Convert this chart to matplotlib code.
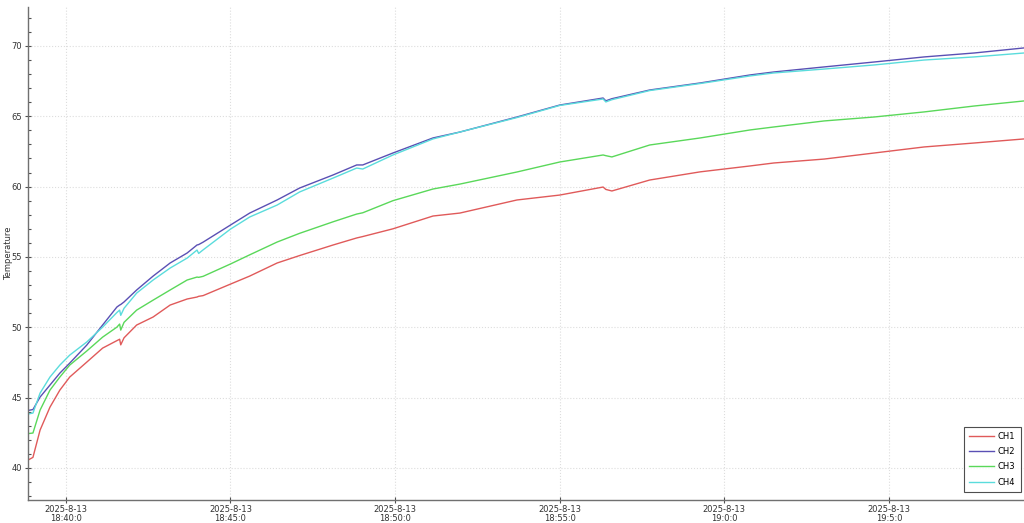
import matplotlib
matplotlib.use("Agg")
import matplotlib.pyplot as plt
import matplotlib.dates as mdates
from matplotlib.ticker import MultipleLocator, FuncFormatter
import pandas as pd

# sample times (2025-08-13)
times = [
    "18:38:53", "18:39:00", "18:39:13", "18:39:31", "18:39:49", "18:40:07",
    "18:40:38", "18:41:07", "18:41:33", "18:41:38", "18:41:40", "18:41:46",
    "18:42:09", "18:42:39", "18:43:10", "18:43:41", "18:43:59", "18:44:02",
    "18:44:10", "18:45:00", "18:45:35", "18:46:25", "18:47:06", "18:48:07",
    "18:48:50", "18:49:01", "18:49:56", "18:51:09", "18:51:58", "18:53:42",
    "18:55:00", "18:56:19", "18:56:24", "18:56:35", "18:57:44", "18:59:16",
    "19:00:47", "19:01:30", "19:03:02", "19:04:33", "19:06:04", "19:07:35",
    "19:09:06",
]

ch1 = [40.60, 40.75, 42.69, 44.32, 45.53, 46.46, 47.52, 48.52, 49.05, 49.15,
       48.75, 49.25, 50.16, 50.73, 51.58, 52.01, 52.15, 52.20, 52.25, 53.07,
       53.64, 54.57, 55.10, 55.85, 56.35, 56.45, 57.00, 57.91, 58.12, 59.05,
       59.40, 59.97, 59.80, 59.69, 60.47, 61.05, 61.47, 61.68, 61.96, 62.39,
       62.82, 63.10, 63.39]
ch2 = [44.10, 44.15, 45.04, 45.89, 46.74, 47.45, 48.73, 50.16, 51.44, 51.58,
       51.62, 51.80, 52.65, 53.64, 54.57, 55.28, 55.85, 55.88, 56.05, 57.27,
       58.12, 59.05, 59.90, 60.83, 61.54, 61.54, 62.39, 63.46, 63.88, 64.95,
       65.80, 66.30, 66.10, 66.25, 66.87, 67.37, 67.94, 68.15, 68.51, 68.86,
       69.22, 69.50, 69.86]
ch3 = [42.45, 42.48, 44.11, 45.53, 46.46, 47.31, 48.31, 49.30, 50.01, 50.23,
       49.80, 50.35, 51.22, 51.93, 52.65, 53.36, 53.57, 53.55, 53.62, 54.50,
       55.15, 56.06, 56.68, 57.50, 58.05, 58.14, 59.00, 59.83, 60.18, 61.04,
       61.75, 62.25, 62.20, 62.11, 62.96, 63.46, 64.03, 64.24, 64.67, 64.95,
       65.31, 65.73, 66.09]
ch4 = [43.85, 43.90, 45.32, 46.46, 47.31, 48.02, 48.95, 50.01, 51.05, 51.22,
       50.85, 51.35, 52.43, 53.36, 54.21, 54.92, 55.49, 55.25, 55.50, 56.98,
       57.84, 58.69, 59.62, 60.61, 61.32, 61.25, 62.25, 63.39, 63.88, 64.91,
       65.77, 66.23, 66.02, 66.18, 66.83, 67.33, 67.87, 68.08, 68.36, 68.65,
       69.00, 69.22, 69.50]

channels = ["CH1", "CH2", "CH3", "CH4"]
colors = ["#e05a5a", "#5a50b4", "#5ad85a", "#5adcdc"]

t = pd.to_datetime(["2025-08-13 " + s for s in times])

fig = plt.figure(figsize=(10.24, 5.23), dpi=100)
ax = fig.add_axes([28 / 1024, 23 / 523, 996 / 1024, 493 / 523])

for name, vals, c in zip(channels, [ch1, ch2, ch3, ch4], colors):
    ax.plot(t, vals, color=c, lw=1.0, label=name)

ax.set_xlim(pd.Timestamp("2025-08-13 18:38:51"), pd.Timestamp("2025-08-13 19:09:06"))
ax.set_ylim(37.72, 72.77)

ax.xaxis.set_major_locator(mdates.MinuteLocator(byminute=range(0, 60, 5)))


def fmt_time(x, pos):
    d = mdates.num2date(x)
    return f"{d.year}-{d.month}-{d.day}\n{d.hour}:{d.minute}:{d.second}"


ax.xaxis.set_major_formatter(FuncFormatter(fmt_time))
ax.yaxis.set_major_locator(MultipleLocator(5))
ax.yaxis.set_minor_locator(MultipleLocator(1))

for s in ["top", "right"]:
    ax.spines[s].set_visible(False)
for s in ["left", "bottom"]:
    ax.spines[s].set_color("#707070")
    ax.spines[s].set_linewidth(1.0)

ax.tick_params(axis="both", which="major", direction="inout", length=5,
               width=0.8, color="#505050", labelsize=6, labelcolor="#333333", pad=2)
ax.tick_params(axis="x", which="major", pad=1)
ax.tick_params(axis="y", which="minor", direction="in", length=2.5,
               width=0.8, color="#505050")

ax.grid(True, which="major", color="#dddddd", linestyle=":", linewidth=0.8)

ax.set_ylabel("Temperature", fontsize=6, color="#333333")
ax.yaxis.set_label_coords(-15 / 996, 0.5)

leg = ax.legend(loc="lower right", fontsize=6, frameon=True, fancybox=False,
                edgecolor="#222222", handlelength=3.0, handletextpad=0.5,
                borderpad=0.6, labelspacing=0.75, borderaxespad=0,
                bbox_to_anchor=(0.9965, 0.017))
leg.get_frame().set_linewidth(0.8)

fig.canvas.draw()
for lbl in ax.get_xticklabels():
    lbl.set_linespacing(1.05)

fig.savefig("out.png", dpi=100)
